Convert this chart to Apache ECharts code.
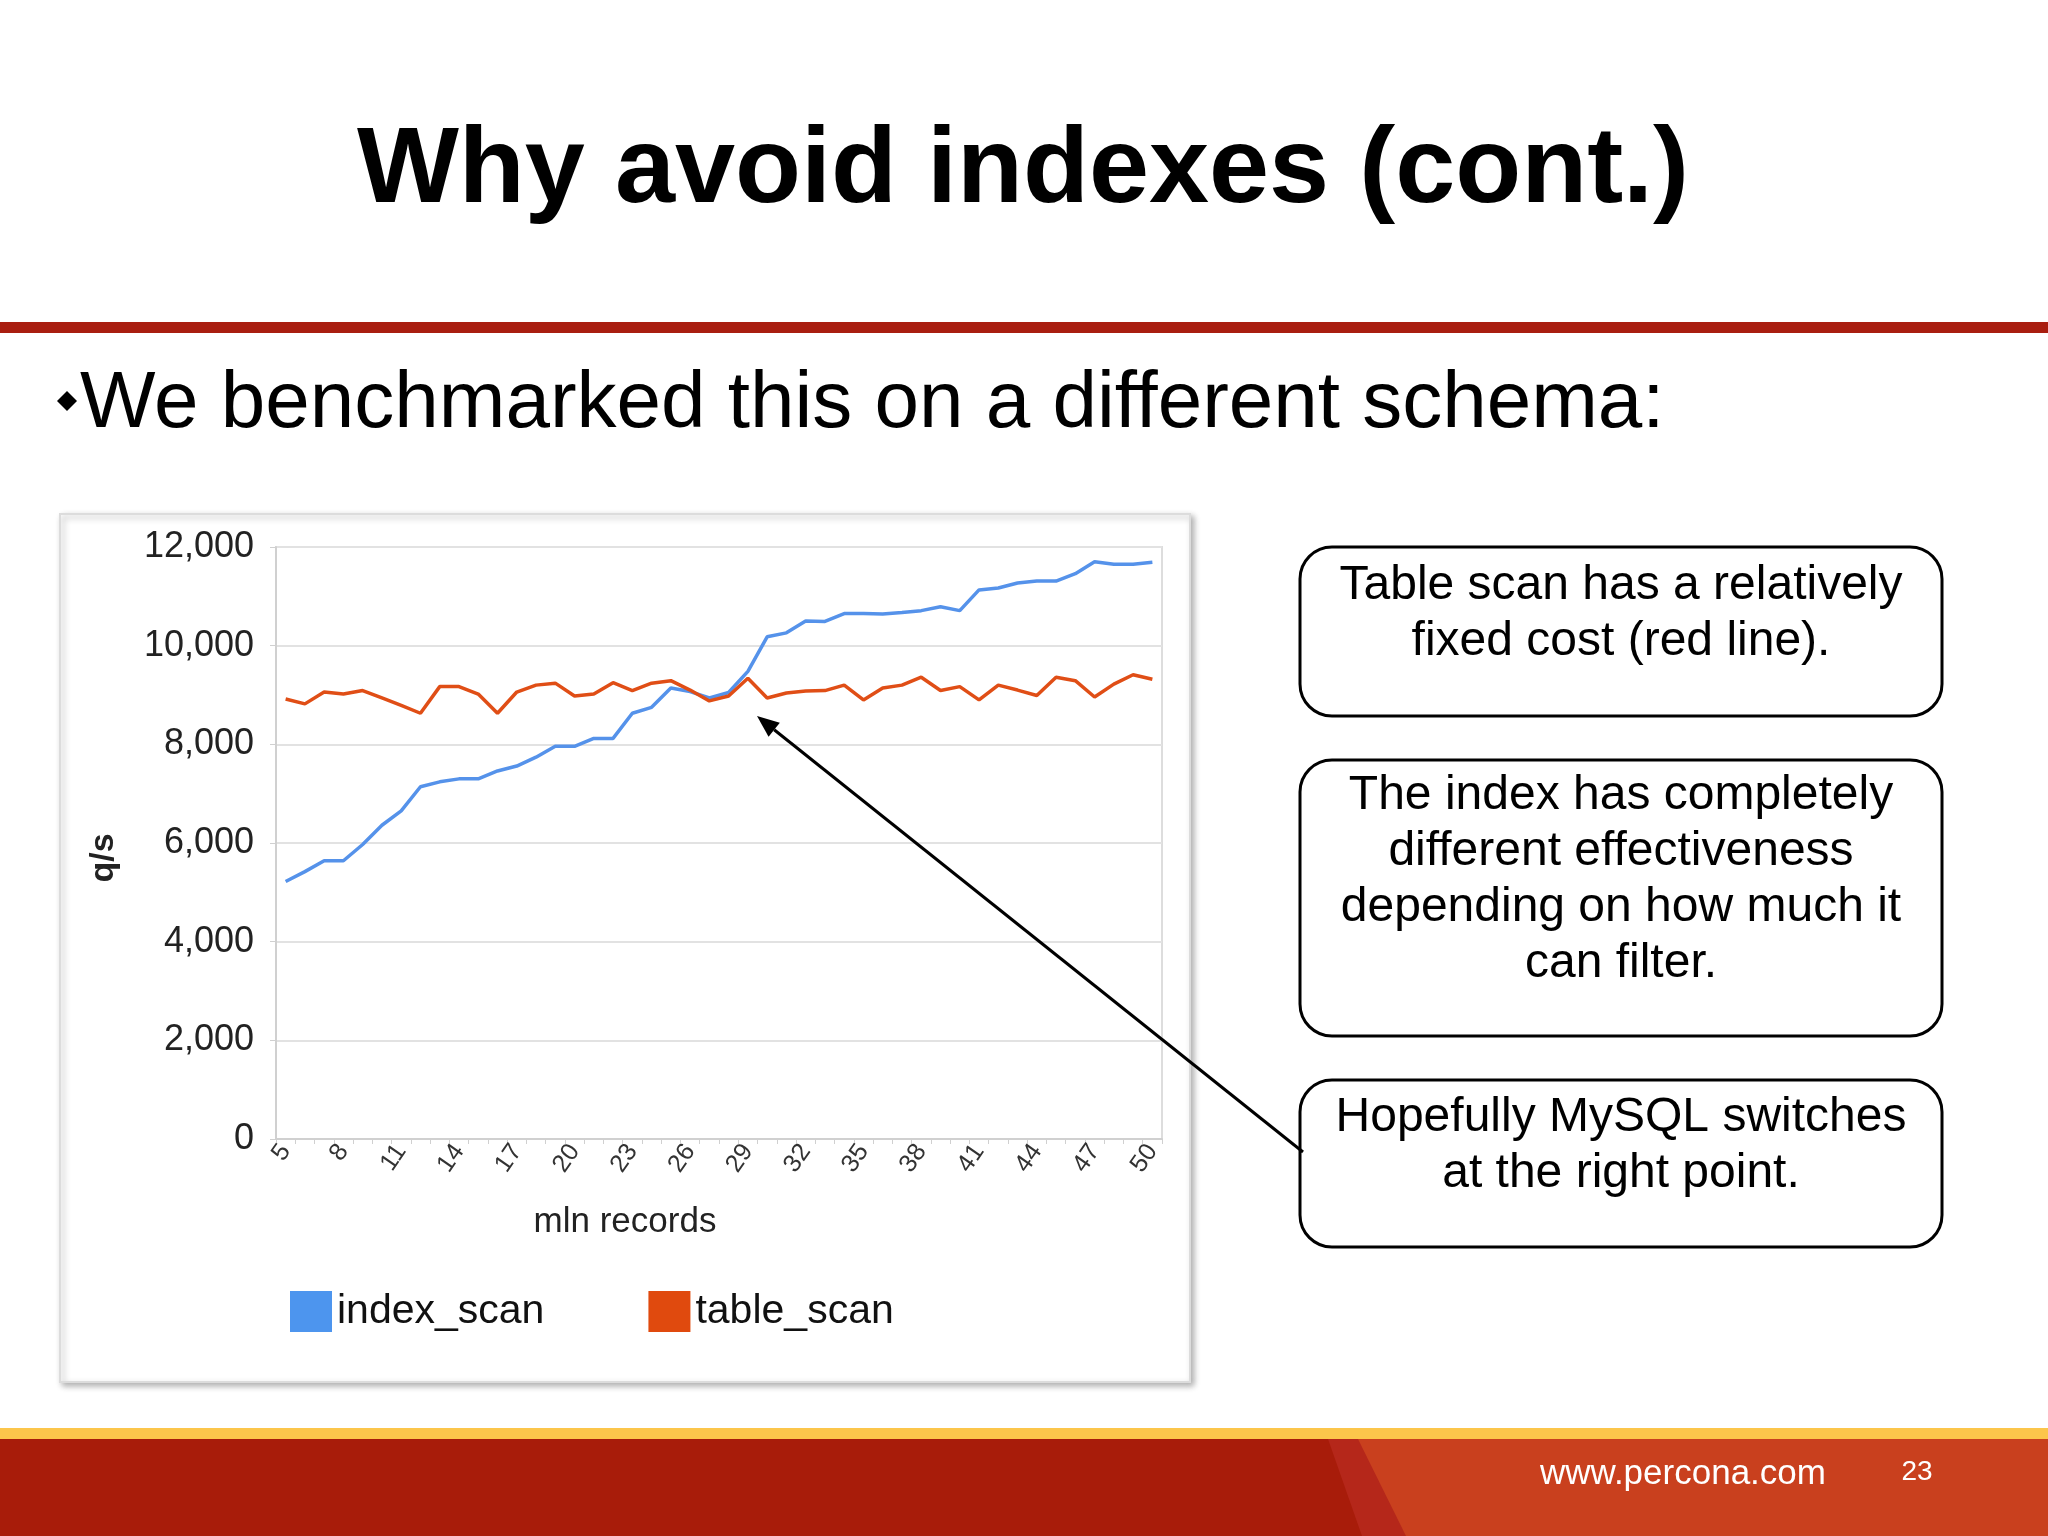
<!DOCTYPE html>
<html>
<head>
<meta charset="utf-8">
<script src="https://cdn.jsdelivr.net/npm/echarts@6/dist/echarts.min.js"></script>
<style>
html,body{margin:0;padding:0;background:#fff;}
#main{width:2048px;height:1536px;}
</style>
</head>
<body>
<div id="main"></div>
<script>
const categories = ['5','6','7','8','9','10','11','12','13','14','15','16','17','18','19','20','21','22','23','24','25','26','27','28','29','30','31','32','33','34','35','36','37','38','39','40','41','42','43','44','45','46','47','48','49','50'];
const indexScan = [5220,5420,5640,5640,5970,6360,6650,7140,7240,7300,7300,7460,7560,7740,7960,7960,8120,8120,8630,8750,9140,9070,8940,9050,9480,10180,10260,10500,10490,10650,10650,10640,10670,10710,10790,10710,11130,11170,11270,11310,11310,11460,11700,11650,11650,11690];
const tableScan = [8920,8820,9060,9020,9090,8940,8790,8630,9170,9170,9020,8630,9060,9200,9240,8980,9020,9250,9090,9240,9290,9100,8880,8980,9340,8940,9040,9080,9090,9200,8900,9140,9200,9360,9090,9170,8900,9200,9100,8990,9360,9290,8960,9220,9410,9320];
const yTicks = [0, 2000, 4000, 6000, 8000, 10000, 12000];

const SANS = '"Liberation Sans", Arial, Helvetica, sans-serif';

const chart = echarts.init(document.getElementById('main'), null, {width:2048, height:1536, renderer:'canvas'});

function txt(text, x, y, font, fill, align, vAlign, extra, elExtra) {
  const style = Object.assign({
    text: text, font: font, fill: fill || '#000',
    align: align || 'left', verticalAlign: vAlign || 'middle',
    textAlign: align || 'left', textVerticalAlign: vAlign || 'middle'
  }, extra || {});
  return Object.assign({ type: 'text', x: x, y: y, z: 50, style: style }, elExtra || {});
}

// arrow geometry (annotation)
const aFrom = [1303, 1152], aTo = [757, 716];
const dx = aTo[0]-aFrom[0], dy = aTo[1]-aFrom[1];
const len = Math.sqrt(dx*dx+dy*dy);
const ux = dx/len, uy = dy/len;
const hl = 22, hw = 9;
const bx = aTo[0]-ux*hl, by = aTo[1]-uy*hl;
const arrowHead = [[aTo[0], aTo[1]], [bx - uy*hw, by + ux*hw], [bx + uy*hw, by - ux*hw]];

const boxFont = '48px ' + SANS;

const option = {
  backgroundColor: '#ffffff',
  animation: false,
  grid: { left: 276, top: 547, width: 886, height: 592, show: true, borderColor: '#dddddd', borderWidth: 2, backgroundColor: 'transparent', containLabel: false },
  legend: {
    left: 285, top: 1286, itemWidth: 42, itemHeight: 41, icon: 'rect', itemGap: 104,
    textStyle: { fontSize: 41, fontFamily: SANS, color: '#111' },
    data: ['index_scan', 'table_scan']
  },
  xAxis: {
    type: 'category', data: categories, boundaryGap: true,
    axisLine: { show: true, lineStyle: { color: '#d0d0d0', width: 2 } },
    axisTick: { show: true, interval: 0, length: 5, lineStyle: { color: '#d0d0d0' } },
    axisLabel: { interval: 2, rotate: 55, margin: 8, fontSize: 25, fontFamily: SANS, color: '#333' },
    splitLine: { show: false }
  },
  yAxis: {
    type: 'value', min: 0, max: 12000, interval: 2000,
    axisLine: { show: true, lineStyle: { color: '#d0d0d0', width: 2 } },
    axisTick: { show: true, length: 6, lineStyle: { color: '#d0d0d0' } },
    axisLabel: { margin: 22, fontSize: 36, fontFamily: SANS, color: '#222',
      formatter: function (v) { return yTicks.indexOf(v) >= 0 ? v.toLocaleString('en-US') : ''; } },
    splitLine: { show: true, lineStyle: { color: '#e2e2e2', width: 2 } }
  },
  series: [
    { name: 'index_scan', type: 'line', data: indexScan, symbol: 'none', smooth: false,
      lineStyle: { color: '#5592ea', width: 3.5 }, itemStyle: { color: '#4d95ee' }, z: 3 },
    { name: 'table_scan', type: 'line', data: tableScan, symbol: 'none', smooth: false,
      lineStyle: { color: '#e04e16', width: 3.5 }, itemStyle: { color: '#e04a0e' }, z: 4 }
  ],
  graphic: [
    // chart card
    { type: 'rect', z: -10, shape: { x: 60, y: 514, width: 1130, height: 868 },
      style: { fill: '#ffffff', stroke: '#dcdcdc', lineWidth: 2, shadowBlur: 6, shadowOffsetX: 3, shadowOffsetY: 3, shadowColor: 'rgba(0,0,0,0.30)' } },
    // title
    txt('Why avoid indexes (cont.)', 1023, 226, 'bold 108px ' + SANS, '#000', 'center', 'bottom'),
    // red rule
    { type: 'rect', z: 5, shape: { x: 0, y: 322, width: 2048, height: 11 }, style: { fill: '#a91e10' } },
    // bullet
    { type: 'polygon', z: 5, shape: { points: [[67,391],[77,401],[67,411],[57,401]] }, style: { fill: '#000' } },
    txt('We benchmarked this on a different schema:', 80, 445, '80px ' + SANS, '#000', 'left', 'bottom'),
    // axis titles
    txt('q/s', 104, 858, 'bold 34px ' + SANS, '#222', 'center', 'middle', null, { rotation: Math.PI / 2 }),
    txt('mln records', 625, 1222, '35px ' + SANS, '#222', 'center', 'middle'),
    // callout boxes
    { type: 'rect', z: 20, shape: { x: 1300, y: 547, width: 642, height: 169, r: 32 }, style: { fill: 'none', stroke: '#000', lineWidth: 3 } },
    txt('Table scan has a relatively\nfixed cost (red line).', 1621, 558, boxFont, '#000', 'center', 'top', { lineHeight: 56 }),
    { type: 'rect', z: 20, shape: { x: 1300, y: 760, width: 642, height: 276, r: 32 }, style: { fill: 'none', stroke: '#000', lineWidth: 3 } },
    txt('The index has completely\ndifferent effectiveness\ndepending on how much it\ncan filter.', 1621, 768, boxFont, '#000', 'center', 'top', { lineHeight: 56 }),
    { type: 'rect', z: 20, shape: { x: 1300, y: 1080, width: 642, height: 167, r: 32 }, style: { fill: 'none', stroke: '#000', lineWidth: 3 } },
    txt('Hopefully MySQL switches\nat the right point.', 1621, 1090, boxFont, '#000', 'center', 'top', { lineHeight: 56 }),
    // arrow
    { type: 'line', z: 30, shape: { x1: aFrom[0], y1: aFrom[1], x2: bx, y2: by }, style: { stroke: '#000', lineWidth: 3 } },
    { type: 'polygon', z: 30, shape: { points: arrowHead }, style: { fill: '#000' } },
    // footer
    { type: 'rect', z: 5, shape: { x: 0, y: 1428, width: 2048, height: 12 }, style: { fill: '#fcc64b' } },
    { type: 'rect', z: 5, shape: { x: 0, y: 1439, width: 2048, height: 97 }, style: { fill: '#a81c0a' } },
    { type: 'polygon', z: 6, shape: { points: [[1328,1439],[2048,1439],[2048,1536],[1362,1536]] }, style: { fill: '#b5271a' } },
    { type: 'polygon', z: 7, shape: { points: [[1358,1439],[2048,1439],[2048,1536],[1406,1536]] }, style: { fill: '#c9401e' } },
    txt('www.percona.com', 1540, 1474, '35px ' + SANS, '#ffffff', 'left', 'middle'),
    txt('23', 1917, 1472, '28px ' + SANS, '#ffffff', 'center', 'middle')
  ]
};
chart.setOption(option);
</script>
</body>
</html>
